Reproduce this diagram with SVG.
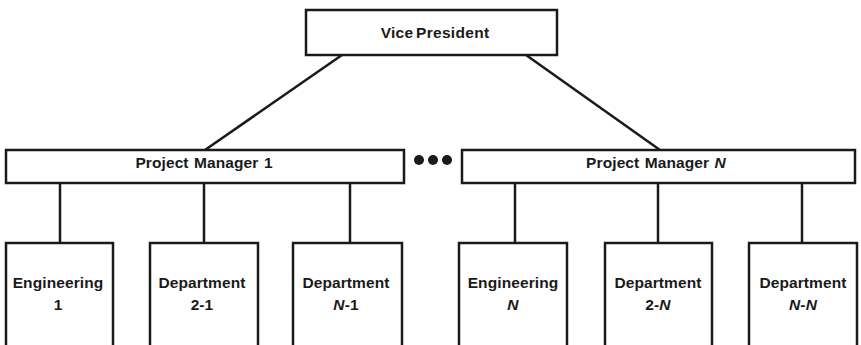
<svg xmlns="http://www.w3.org/2000/svg" width="861" height="345" viewBox="0 0 861 345">
  <style>
    .box { fill: #ffffff; stroke: #1a1a1a; stroke-width: 2.5; }
    .link { stroke: #1a1a1a; stroke-width: 2.5; fill: none; }
    .label { font-family: "Liberation Sans", Arial, sans-serif; font-weight: bold; font-size: 15.5px; letter-spacing: 0.1px; word-spacing: 1px; fill: #1a1a1a; text-anchor: middle; }
    .it { font-style: italic; }
    .dot { fill: #1a1a1a; }
  </style>
  <rect width="861" height="345" fill="#ffffff"/>

  <!-- connectors -->
  <g id="connectors">
    <line class="link" x1="342" y1="55" x2="205" y2="150"/>
    <line class="link" x1="526" y1="55" x2="660" y2="150"/>
    <line class="link" x1="60" y1="183" x2="60" y2="243"/>
    <line class="link" x1="204" y1="183" x2="204" y2="243"/>
    <line class="link" x1="350" y1="183" x2="350" y2="243"/>
    <line class="link" x1="515" y1="183" x2="515" y2="243"/>
    <line class="link" x1="658" y1="183" x2="658" y2="243"/>
    <line class="link" x1="802" y1="183" x2="802" y2="243"/>
  </g>

  <g id="vice-president">
    <rect class="box" x="306" y="10" width="251" height="45"/>
    <text class="label" x="435" y="38" style="letter-spacing:0.3px; word-spacing:-2px">Vice President</text>
  </g>

  <g id="project-manager-1">
    <rect class="box" x="6" y="150" width="398" height="33"/>
    <text class="label" x="204" y="168">Project Manager 1</text>
  </g>

  <g id="ellipsis">
    <circle class="dot" cx="419" cy="160" r="5"/>
    <circle class="dot" cx="433" cy="160" r="5"/>
    <circle class="dot" cx="447" cy="160" r="5"/>
  </g>

  <g id="project-manager-n">
    <rect class="box" x="462" y="150" width="393" height="33"/>
    <text class="label" x="656" y="168">Project Manager <tspan class="it">N</tspan></text>
  </g>

  <g id="engineering-1">
    <rect class="box" x="6" y="243" width="107" height="120"/>
    <text class="label" x="58" y="288">Engineering</text>
    <text class="label" x="58" y="310">1</text>
  </g>

  <g id="department-2-1">
    <rect class="box" x="150" y="243" width="108" height="120"/>
    <text class="label" x="202" y="288">Department</text>
    <text class="label" x="202" y="310">2-1</text>
  </g>

  <g id="department-n-1">
    <rect class="box" x="293" y="243" width="109" height="120"/>
    <text class="label" x="346" y="288">Department</text>
    <text class="label" x="346" y="310"><tspan class="it">N</tspan>-1</text>
  </g>

  <g id="engineering-n">
    <rect class="box" x="459" y="243" width="108" height="120"/>
    <text class="label" x="513" y="288">Engineering</text>
    <text class="label" x="513" y="310"><tspan class="it">N</tspan></text>
  </g>

  <g id="department-2-n">
    <rect class="box" x="605" y="243" width="107" height="120"/>
    <text class="label" x="658" y="288">Department</text>
    <text class="label" x="658" y="310">2-<tspan class="it">N</tspan></text>
  </g>

  <g id="department-n-n">
    <rect class="box" x="749" y="243" width="108" height="120"/>
    <text class="label" x="803" y="288">Department</text>
    <text class="label" x="803" y="310"><tspan class="it">N</tspan>-<tspan class="it">N</tspan></text>
  </g>
</svg>
